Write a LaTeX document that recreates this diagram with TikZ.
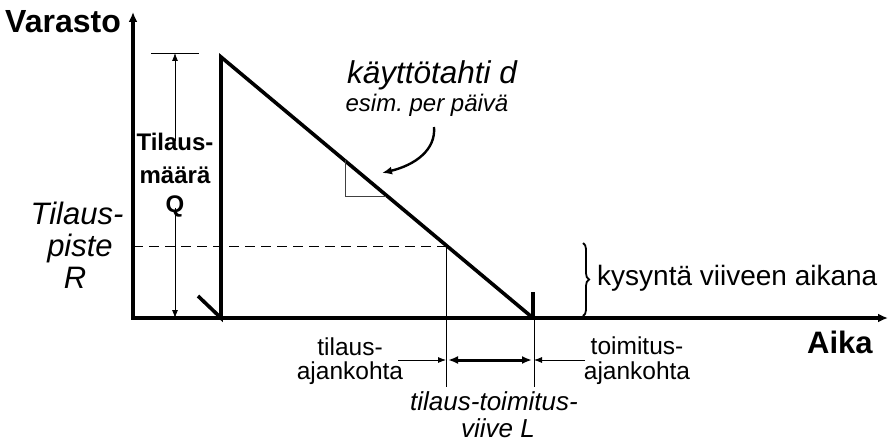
\documentclass[tikz,border=0pt]{standalone}
\usepackage{fontspec}
\setmainfont{Liberation Sans}
\usetikzlibrary{arrows.meta,decorations.pathreplacing}
\begin{document}
\begin{tikzpicture}[x=1pt,y=-1pt,
  thickline/.style={line width=3.6pt},
  thinline/.style={line width=0.8pt},
  axis/.style={line width=3.6pt,-{Latex[length=10pt,width=9pt]}},
  dimarrow/.style={line width=0.8pt,-{Latex[length=8pt,width=6pt]}},
  lbl/.style={inner sep=0pt,anchor=base},
  itbig/.style={lbl,font=\fontsize{31}{34}\selectfont\itshape},
  plain/.style={lbl,font=\fontsize{24.5}{27}\selectfont},
  qlbl/.style={lbl,font=\fontsize{24}{27}\selectfont\bfseries},
]
\useasboundingbox (0,0) rectangle (888,441);
% coordinates
\coordinate (O) at (133,318);
\coordinate (Ytop) at (133,12);
\coordinate (Xend) at (888,318);
\coordinate (S0) at (198,296);
\coordinate (P0) at (221,318);
\coordinate (P1) at (221,57);
\coordinate (P2) at (533,318);
\coordinate (P3) at (533,292);
% axes
\draw[axis] (O) -- (Ytop);
\draw[axis] ([xshift=-1.8pt]O) -- (Xend);
% inventory curve
\draw[thickline,line join=miter] (S0) -- (P0) -- (P1) -- (P2);
\draw[thickline] (P2) -- (P3);
% reorder point dashed line
\coordinate (R0) at (133,246);
\coordinate (R1) at (446,246);
\draw[thinline,dash pattern=on 10pt off 6pt] (R0) -- (R1);
% vertical thin lines
\coordinate (L0b) at (446,387);
\coordinate (L1t) at (534,318);
\coordinate (L1b) at (534,387);
\draw[thinline] (R1) -- (L0b);
\draw[thinline] (L1t) -- (L1b);
% lead time arrows
\coordinate (A0) at (398,360);
\coordinate (A1) at (446,360);
\coordinate (A2) at (534,360);
\coordinate (A3) at (585,360);
\draw[dimarrow] (A0) -- (A1);
\draw[dimarrow] (A3) -- (A2);
\draw[line width=3pt,{Latex[length=10pt,width=8pt]}-{Latex[length=10pt,width=8pt]}] ([xshift=2pt]A1) -- ([xshift=-2pt]A2);
% order quantity dimension
\coordinate (Qt0) at (151,53);
\coordinate (Qt1) at (199,53);
\coordinate (Qtop) at (175,53);
\coordinate (Qbot) at (175,318);
\draw[thinline] (Qt0) -- (Qt1);
\node[qlbl] (q1) at (175,150) {Tilaus-};
\node[qlbl] (q2) at (175,183) {määrä};
\node[qlbl] (q3) at (175,212) {Q};
\draw[dimarrow] ([yshift=-9pt]q1.north) -- (Qtop);
\draw[dimarrow] ([yshift=9pt]q3.south) -- (Qbot);
% slope triangle
\coordinate (T0) at (345,160);
\coordinate (T1) at (345,196);
\coordinate (T2) at (386,196);
\draw[line width=1pt,black!75] (T0) -- (T1) -- (T2);
% labels
\node[lbl,anchor=base west,font=\fontsize{32}{36}\selectfont\bfseries] (varasto) at (5,33) {Varasto};
\node[lbl,anchor=base west,font=\fontsize{31}{34}\selectfont\bfseries] (aika) at (807,353) {Aika};
\node[itbig] (r1) at (77,224) {Tilaus-};
\node[itbig] (r2) at (80,256) {piste};
\node[itbig] (r3) at (75,288) {R};
\node[lbl,font=\fontsize{31.5}{34}\selectfont\itshape] (d1) at (432,84) {käyttötahti d};
\node[lbl,font=\fontsize{24}{28}\selectfont\itshape] (d2) at (427,111) {esim.\ per päivä};
\coordinate (C0) at (434,127);
\coordinate (C1) at (382,173);
\draw[line width=2.4pt,-{Latex[length=10pt,width=8pt]}] (C0) .. controls (436,150) and (415,165) .. (C1);
\node[plain] (t1) at (350,355) {tilaus-};
\node[plain] (t2) at (350,379) {ajankohta};
\node[plain] (o1) at (637,354) {toimitus-};
\node[plain] (o2) at (637,379) {ajankohta};
\node[lbl,font=\fontsize{26}{29}\selectfont\itshape] (v1) at (494,410) {tilaus-toimitus-};
\node[lbl,font=\fontsize{26}{29}\selectfont\itshape] (v2) at (498,437) {viive L};
% brace
\coordinate (B0) at (583,243);
\coordinate (B1) at (583,316);
\draw[line width=1.8pt,decorate,decoration={brace,amplitude=6pt}] (B0) -- (B1);
\node[lbl,anchor=base west,font=\fontsize{28}{31}\selectfont] (kys) at (597,285) {kysyntä viiveen aikana};
\end{tikzpicture}
\end{document}
